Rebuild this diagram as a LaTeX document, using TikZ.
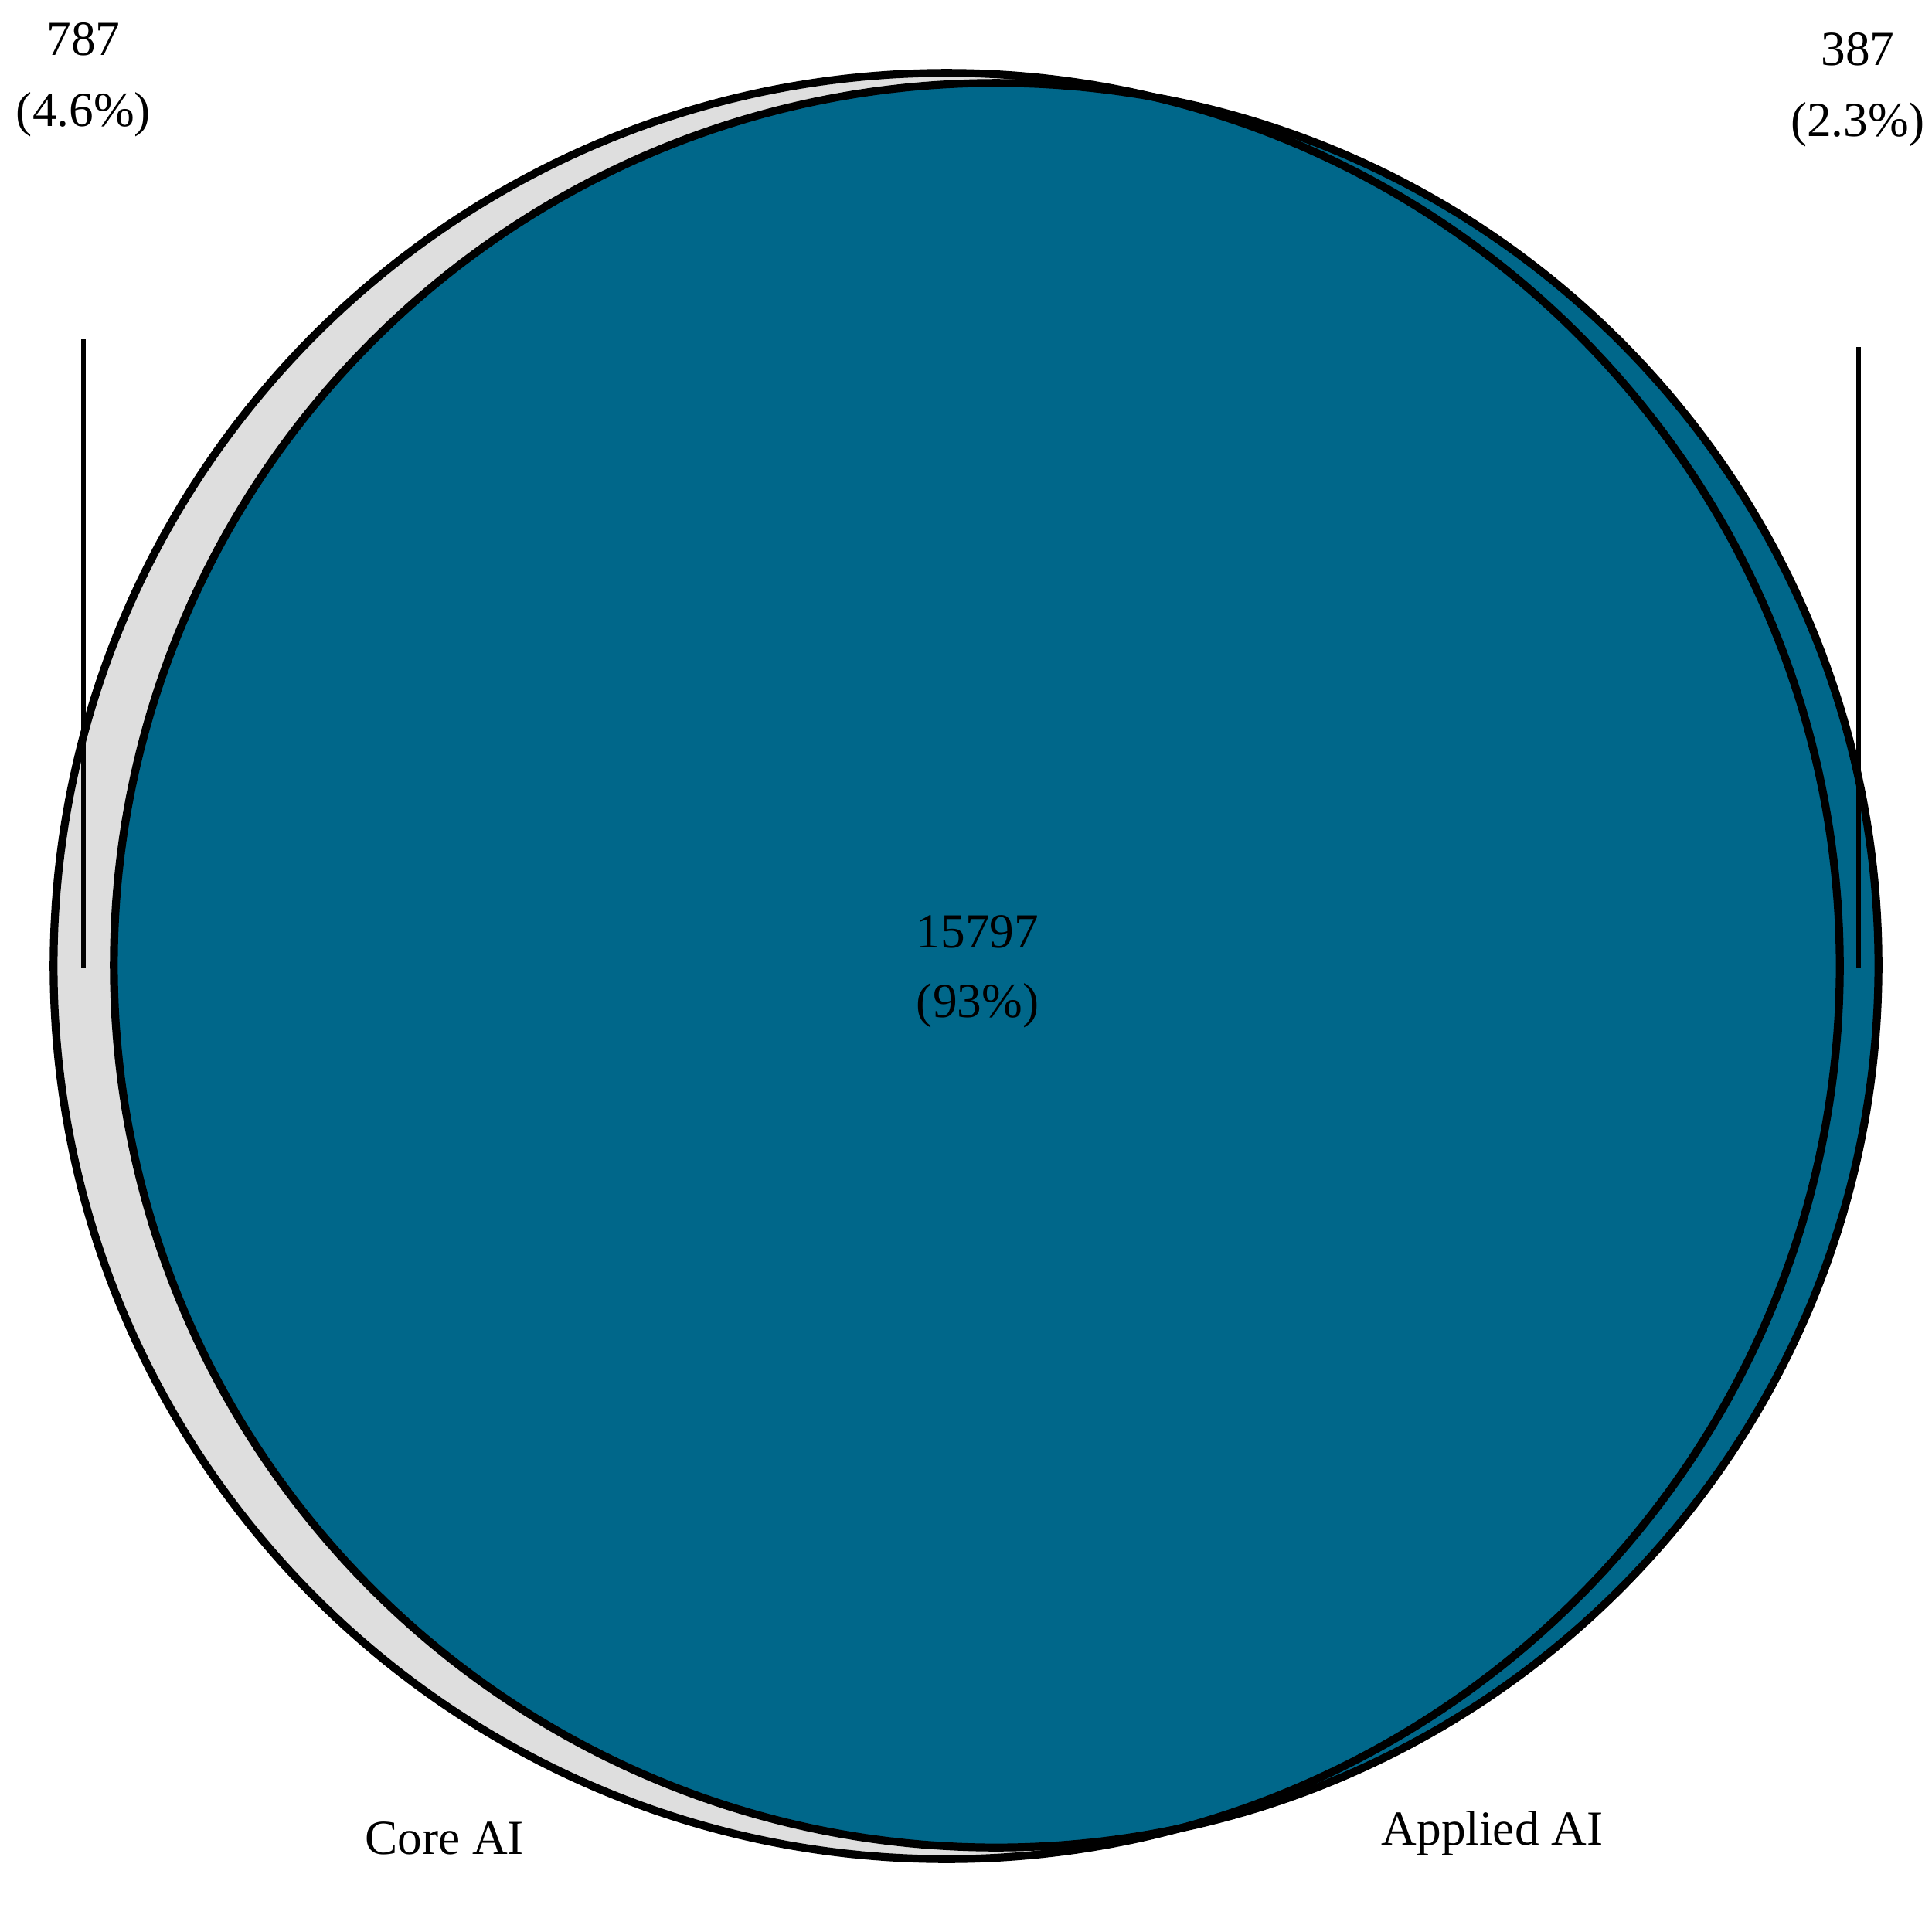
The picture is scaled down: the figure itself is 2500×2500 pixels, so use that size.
\documentclass[tikz,border=0pt]{standalone}
\usepackage{fontspec}
\setmainfont{Liberation Serif}
\definecolor{appblue}{RGB}{0,103,138}
\definecolor{coregrey}{RGB}{222,222,222}
\begin{document}
\begin{tikzpicture}[x=0.01cm,y=-0.01cm,
  ring/.style={draw=black,line width=2.9pt},
  leader/.style={draw=black,line width=1.45pt},
  lbl/.style={font=\fontsize{18}{26}\selectfont,inner sep=0pt,anchor=base}]
\useasboundingbox (0,0) rectangle (2500,2500);
\coordinate (core) at (1225,1250);
\coordinate (appl) at (1289,1249);
% fills
\fill[coregrey] (core) circle (11.55cm);
\fill[appblue] (appl) circle (11.41cm);
% outlines
\draw[ring] (core) circle (11.55cm);
\draw[ring] (appl) circle (11.41cm);
% leader lines
\coordinate (lt) at (108,439);
\coordinate (lb) at (108,1252);
\coordinate (rt) at (2405,449);
\coordinate (rb) at (2405,1252);
\draw[leader] (lb) -- (lt);
\draw[leader] (rb) -- (rt);
% labels
\node[lbl] (l1) at (108,72) {787};
\node[lbl] (l2) at (108,163) {(4.6\%)};
\node[lbl] (r1) at (2404,85) {387};
\node[lbl] (r2) at (2404,176) {(2.3\%)};
\node[lbl] (c1) at (1265,1226) {15797};
\node[lbl] (c2) at (1265,1316) {(93\%)};
\node[lbl] (coreL) at (575,2399) {Core AI};
\node[lbl] (applL) at (1931,2387) {Applied AI};
\end{tikzpicture}
\end{document}
